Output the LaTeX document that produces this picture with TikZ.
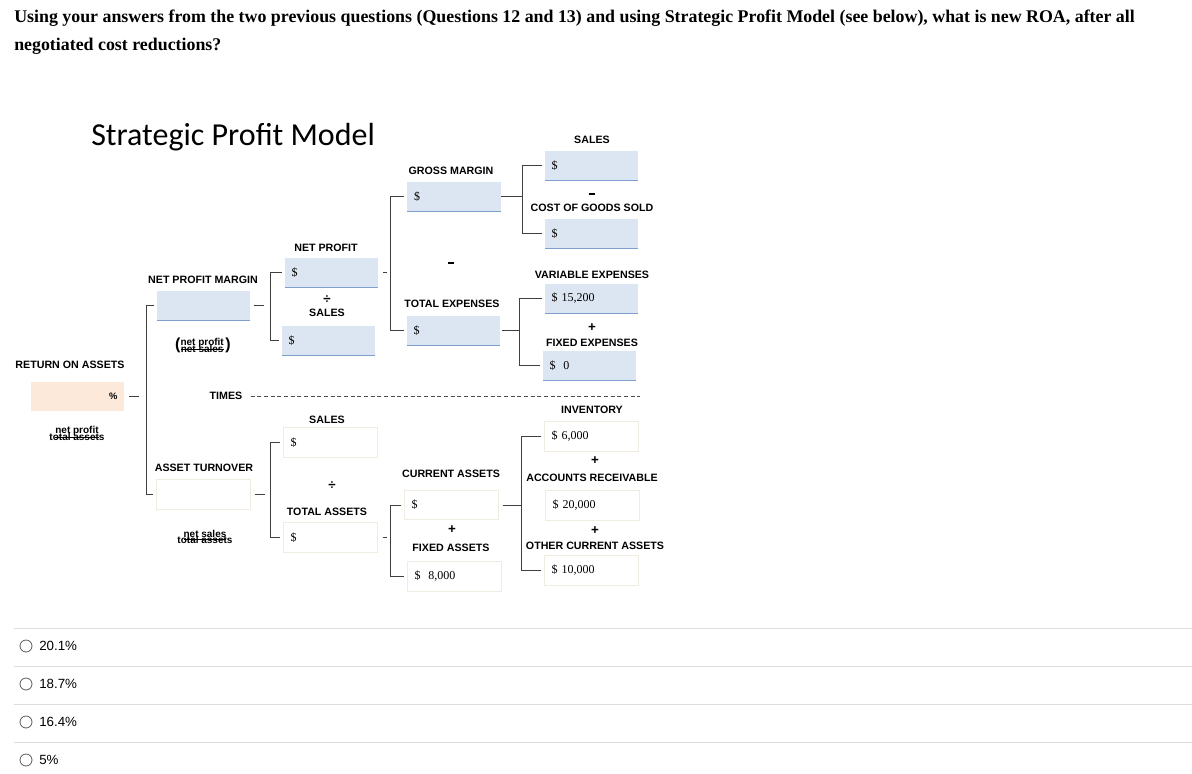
\documentclass[tikz,border=0pt]{standalone}
\usepackage{fontspec}
\setmainfont{Liberation Serif}
\newfontfamily\lsans{Liberation Sans}
\newfontfamily\carfont{Carlito}
\usetikzlibrary{calc}
\definecolor{bfill}{HTML}{DCE6F2}
\definecolor{bline}{HTML}{7F9FCF}
\definecolor{ofill}{HTML}{FCE9DA}
\definecolor{wbord}{HTML}{F0ECDF}
\definecolor{sep}{HTML}{DDDDDD}
\newcommand{\fr}[2]{\begin{tabular}{@{}c@{}}\underline{#1}\\[-3.5pt]#2\end{tabular}}
\begin{document}
\begin{tikzpicture}[x=0.75pt,y=-0.75pt,
  lab/.style={font=\lsans\bfseries\fontsize{8}{9}\selectfont, inner sep=0pt},
  op/.style={font=\lsans\bfseries\fontsize{10}{10}\selectfont, inner sep=0pt},
  frac/.style={font=\lsans\bfseries\fontsize{7.5}{8}\selectfont, align=center, inner sep=0pt},
  box/.style={minimum width=70pt, minimum height=22pt, text width=60pt, inner xsep=5pt, align=left, font=\fontsize{9}{10}\selectfont},
  bbox/.style={box, fill=bfill, append after command={\pgfextra{\draw[bline, line width=0.8pt] (\tikzlastnode.south west)--(\tikzlastnode.south east);}}},
  wbox/.style={box, draw=wbord, line width=0.8pt},
  conn/.style={draw=black!75, line width=0.7pt}]
\useasboundingbox (0,0) rectangle (1192,774);
% question
\node[anchor=west, font=\bfseries\fontsize{13.4}{15}\selectfont, inner sep=0pt] (q1) at (14,18) {Using your answers from the two previous questions (Questions 12 and 13) and using Strategic Profit Model (see below), what is new ROA, after all};
\node[anchor=west, font=\bfseries\fontsize{13.4}{15}\selectfont, inner sep=0pt] (q2) at (14,46) {negotiated cost reductions?};
\node[anchor=west, font=\carfont\fontsize{24}{26}\selectfont, inner sep=0pt] (title) at (91,137) {Strategic Profit Model};
% ROA
\node[lab] (roal) at (70,365) {RETURN ON ASSETS};
\node[box, fill=ofill, align=right, font=\lsans\bfseries\fontsize{7}{8}\selectfont] (roa) at (77.5,396.5) {\%};
\node[frac] (roaf) at (77,435) {\fr{net profit}{total assets}};
% NPM
\node[lab] (npml) at (203,280) {NET PROFIT MARGIN};
\node[bbox] (npm) at (203.5,305.5) {};
\node[frac] (npmf) at (203,347) {{\fontsize{12}{12}\selectfont(}\fr{net profit}{net sales}\,{\fontsize{12}{12}\selectfont)}};
\node[lab] (times) at (226,396) {TIMES};
\coordinate (dashend) at (640,396);
\draw[dash pattern=on 3pt off 2pt, black!70, line width=0.6pt] (times.east)++(8,0) -- (dashend);
\node[lab] (atl) at (204,468) {ASSET TURNOVER};
\node[wbox] (at) at (203.5,494.5) {};
\node[frac] (atf) at (205,538) {\fr{net sales}{total assets}};
% level 2
\node[lab] (npl) at (326,248) {NET PROFIT};
\node[bbox] (np) at (331.5,272.5) {\$};
\node[op] (div1) at (327,300) {÷};
\node[lab] (s1l) at (327,313) {SALES};
\node[bbox] (s1) at (328.5,340.5) {\$};
\node[lab] (s2l) at (327,420) {SALES};
\node[wbox] (s2) at (330.5,442.5) {\$};
\node[op] (div2) at (332,486) {÷};
\node[lab] (tal) at (327,512) {TOTAL ASSETS};
\node[wbox] (ta) at (330.5,537.5) {\$};
% level 3
\node[lab] (gml) at (451,171) {GROSS MARGIN};
\node[bbox] (gm) at (454,196.5) {\$};
\node[op] (minus1) at (451,263) {\rule{5pt}{2pt}};
\node[lab] (tel) at (452,304) {TOTAL EXPENSES};
\node[bbox] (te) at (453.5,330.5) {\$};
\node[lab] (cal) at (451,474) {CURRENT ASSETS};
\node[wbox] (ca) at (451.5,505) {\$};
\node[op] (plus1) at (452,530) {+};
\node[lab] (fal) at (451,548) {FIXED ASSETS};
\node[wbox] (fa) at (454.5,576.5) {\$~~8,000};
% level 4
\node[lab] (sal) at (592,140) {SALES};
\node[bbox] (sa) at (591.5,165.5) {\$};
\node[op] (minus2) at (592,194) {\rule{5pt}{2pt}};
\node[lab] (cgl) at (592,208) {COST OF GOODS SOLD};
\node[bbox] (cg) at (591.5,233.5) {\$};
\node[lab] (vel) at (592,275) {VARIABLE EXPENSES};
\node[bbox] (ve) at (591.5,298.5) {\$ 15,200};
\node[op] (plus2) at (592,328) {+};
\node[lab] (fel) at (592,343) {FIXED EXPENSES};
\node[bbox] (fe) at (589.5,365.5) {\$~~0};
\node[lab] (invl) at (592,410) {INVENTORY};
\node[wbox] (inv) at (591.5,436.5) {\$ 6,000};
\node[op] (plus3) at (595,461) {+};
\node[lab] (arl) at (592,478) {ACCOUNTS RECEIVABLE};
\node[wbox] (ar) at (592.5,505.5) {\$ 20,000};
\node[op] (plus4) at (595,531) {+};
\node[lab] (ocal) at (595,546) {OTHER CURRENT ASSETS};
\node[wbox] (oca) at (591.5,570.5) {\$ 10,000};
% connectors
\draw[conn] ($(roa.east)+(5,0)$) -- ++(10,0);
\draw[conn] ($(npm.west)+(-3,0)$) -- (146,305.5) -- (146,494.5) -- ($(at.west)+(-3,0)$);
\draw[conn] ($(npm.east)+(4,0)$) -- ++(10,0);
\draw[conn] ($(at.east)+(4,0)$) -- ++(10,0);
\draw[conn] ($(np.west)+(-3,0)$) -- (270,272.5) -- (270,340.5) -- ($(s1.west)+(-3,0)$);
\draw[conn] ($(s2.west)+(-3,0)$) -- (270,442.5) -- (270,537.5) -- ($(ta.west)+(-3,0)$);
\draw[conn] ($(np.east)+(5,0)$) -- ++(4,0);
\draw[conn] ($(ta.east)+(5,0)$) -- ++(4,0);
\draw[conn] ($(gm.west)+(-3,0)$) -- (390,196.5) -- (390,330.5) -- ($(te.west)+(-3,0)$);
\draw[conn] ($(ca.west)+(-3,0)$) -- (390,505) -- (390,576.5) -- ($(fa.west)+(-3,0)$);
\draw[conn] (gm.east) -- (522,196.5);
\draw[conn] ($(sa.west)+(-3,0)$) -- (522,165.5) -- (522,233.5) -- ($(cg.west)+(-3,0)$);
\draw[conn] ($(te.east)+(2,0)$) -- (519,330.5);
\draw[conn] ($(ve.west)+(-3,0)$) -- (519,298.5) -- (519,365.5) -- ($(fe.west)+(-3,0)$);
\draw[conn] ($(ca.east)+(4,0)$) -- (521,505);
\draw[conn] ($(inv.west)+(-3,0)$) -- (521,436.5) -- (521,570.5) -- ($(oca.west)+(-3,0)$);
% options
\foreach \yy in {628,666,704,742} \draw[sep, line width=0.6pt] (14,\yy) -- (1192,\yy);
\foreach \yy/\tt/\nm in {646/20.1\%/o1,684/18.7\%/o2,722/16.4\%/o3,760/5\%/o4}{
  \node[circle, draw=black!65, line width=0.6pt, minimum size=9pt, inner sep=0pt] (r\nm) at (26,\yy) {};
  \node[anchor=west, font=\lsans\fontsize{10}{12}\selectfont, inner sep=0pt] (\nm) at (39,\yy) {\tt};
}
\end{tikzpicture}
\end{document}
